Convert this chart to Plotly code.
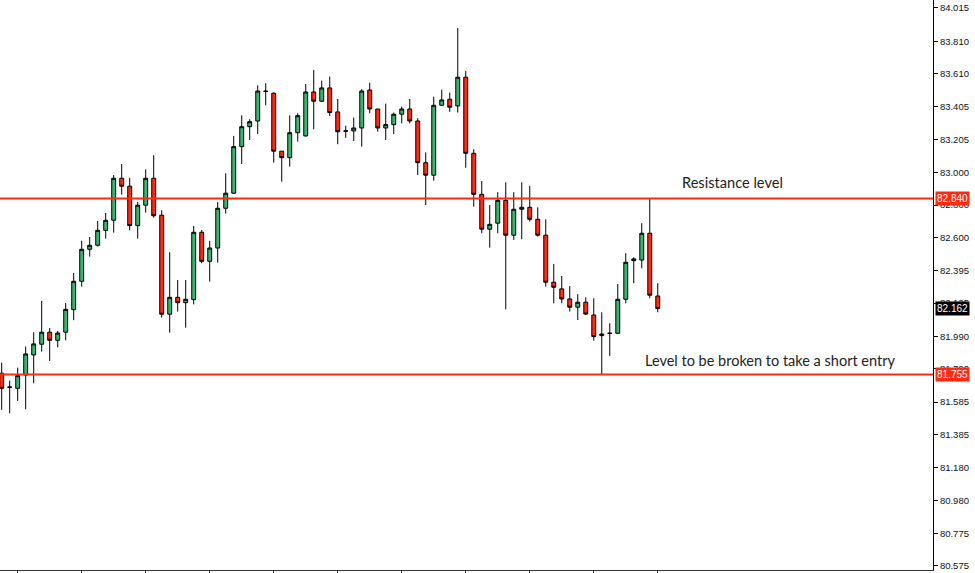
import plotly.graph_objects as go

# OHLC, one entry per bar
opens = [81.763, 81.676, 81.670, 81.752, 81.876, 81.942, 82.016, 81.966, 82.016, 82.155,
         82.330, 82.527, 82.552, 82.644, 82.706, 82.965, 82.916, 82.673, 82.799, 82.965,
         82.737, 82.127, 82.231, 82.198, 82.217, 82.632, 82.453, 82.535, 82.780, 82.873,
         83.160, 83.283, 83.318, 83.500, 83.489, 83.132, 83.092, 83.246, 83.226, 83.497,
         83.440, 83.522, 83.374, 83.255, 83.257, 83.275, 83.509, 83.392, 83.275, 83.296,
         83.360, 83.392, 83.318, 83.061, 82.984, 83.415, 83.452, 83.411, 83.588, 83.119,
         82.866, 82.651, 82.688, 82.829, 82.614, 82.774, 82.786, 82.712, 82.614, 82.324,
         82.283, 82.221, 82.170, 82.201, 82.122, 81.995, 82.008, 82.009, 82.219, 82.457,
         82.461, 82.626, 82.239]
highs = [81.828, 81.717, 81.797, 81.927, 82.016, 82.209, 82.042, 82.024, 82.196, 82.381,
         82.580, 82.603, 82.702, 82.751, 82.985, 83.053, 82.967, 82.819, 83.020, 83.107,
         82.768, 82.509, 82.338, 82.338, 82.671, 82.646, 82.579, 82.819, 82.996, 83.226,
         83.353, 83.329, 83.538, 83.551, 83.495, 83.132, 83.353, 83.366, 83.546, 83.633,
         83.567, 83.592, 83.454, 83.289, 83.339, 83.514, 83.554, 83.392, 83.425, 83.370,
         83.407, 83.454, 83.335, 83.125, 83.468, 83.511, 83.493, 83.892, 83.627, 83.144,
         82.948, 82.800, 82.879, 82.940, 82.879, 82.940, 82.918, 82.786, 82.712, 82.437,
         82.363, 82.301, 82.250, 82.231, 82.225, 82.139, 82.071, 82.313, 82.503, 82.478,
         82.688, 82.840, 82.318]
lows = [81.537, 81.516, 81.592, 81.541, 81.701, 81.896, 81.839, 81.923, 81.966, 82.090,
        82.297, 82.482, 82.544, 82.593, 82.630, 82.864, 82.644, 82.593, 82.753, 82.722,
        82.106, 82.013, 82.143, 82.044, 82.188, 82.441, 82.328, 82.445, 82.747, 82.868,
        83.053, 83.201, 83.238, 83.415, 83.061, 82.944, 83.037, 83.191, 83.222, 83.267,
        83.435, 83.349, 83.175, 83.214, 83.195, 83.160, 83.366, 83.252, 83.201, 83.238,
        83.304, 83.304, 82.985, 82.800, 82.950, 83.412, 83.374, 83.370, 83.030, 82.790,
        82.626, 82.537, 82.626, 82.157, 82.585, 82.589, 82.698, 82.605, 82.297, 82.194,
        82.194, 82.143, 82.091, 82.122, 81.964, 81.752, 81.870, 82.005, 82.194, 82.318,
        82.410, 82.225, 82.139]
closes = [81.670, 81.678, 81.748, 81.882, 81.944, 82.016, 81.966, 82.011, 82.157, 82.330,
          82.527, 82.552, 82.644, 82.706, 82.965, 82.916, 82.673, 82.799, 82.965, 82.734,
          82.127, 82.231, 82.198, 82.219, 82.632, 82.453, 82.535, 82.780, 82.873, 83.160,
          83.283, 83.314, 83.503, 83.502, 83.132, 83.092, 83.246, 83.351, 83.497, 83.440,
          83.522, 83.370, 83.252, 83.257, 83.275, 83.503, 83.392, 83.275, 83.296, 83.360,
          83.392, 83.318, 83.061, 82.984, 83.415, 83.448, 83.403, 83.588, 83.119, 82.866,
          82.651, 82.681, 82.829, 82.614, 82.774, 82.786, 82.712, 82.614, 82.324, 82.293,
          82.221, 82.170, 82.201, 82.128, 81.989, 82.005, 82.010, 82.219, 82.447, 82.468,
          82.626, 82.244, 82.162]
bars = list(range(len(opens)))

price_ticks = [84.015, 83.810, 83.610, 83.405, 83.205, 83.000, 82.800, 82.600, 82.395,
               82.195, 81.990, 81.790, 81.585, 81.385, 81.180, 80.980, 80.775, 80.575]
tick_labels = ['%.3f' % v for v in price_ticks]

resistance = 82.840
breakout = 81.755
last_price = closes[-1]

green = '#3cb371'
red = '#ff2a12'

fig = go.Figure(go.Candlestick(
    x=bars, open=opens, high=highs, low=lows, close=closes,
    increasing=dict(fillcolor=green, line=dict(color='black', width=1)),
    decreasing=dict(fillcolor=red, line=dict(color='black', width=1)),
    whiskerwidth=0, hoverinfo='skip', showlegend=False))

for lvl in [resistance, breakout]:
    fig.add_hline(y=lvl, line=dict(color=red, width=2))

# price tags on the axis
for lvl, bg in [(resistance, red), (breakout, red), (last_price, 'black')]:
    fig.add_annotation(x=1, xref='paper', y=lvl, yref='y', text='%.3f' % lvl,
                       xanchor='left', yanchor='middle', xshift=2, showarrow=False,
                       bgcolor=bg, borderpad=1,
                       font=dict(family='Liberation Sans', size=10, color='white'))

fig.add_annotation(x=84.8, y=82.942, text='Resistance level', xanchor='left', yanchor='middle',
                   showarrow=False, font=dict(family='Lato', size=14.6, color='#222'))
fig.add_annotation(x=80.1, y=81.839, text='Level to be broken to take a short entry',
                   xanchor='left', yanchor='middle', showarrow=False,
                   font=dict(family='Lato', size=14.5, color='#222'))

fig.update_layout(
    width=975, height=573, template='none',
    margin=dict(l=0, r=42, t=0, b=3),
    paper_bgcolor='white', plot_bgcolor='white',
    boxgap=0.3,
    xaxis=dict(range=[-0.21, 116.4], rangeslider=dict(visible=False), showgrid=False,
               zeroline=False, showline=True, linecolor='#333', linewidth=1,
               tickvals=list(range(2, 83, 8)), ticks='outside', ticklen=3,
               tickcolor='#333', showticklabels=False, automargin=False),
    yaxis=dict(side='right', range=[80.550, 84.064], showgrid=False, zeroline=False,
               showline=True, linecolor='black', linewidth=1,
               tickvals=price_ticks, ticktext=tick_labels, ticks='outside', ticklen=4,
               tickcolor='black', tickfont=dict(family='Liberation Sans', size=9.5, color='#111'),
               automargin=False),
)

# page body has a default 8px margin; drop it so the chart fills the window
fig.write_html("out.html", config=dict(displayModeBar=False),
               post_script="document.body.style.margin='0';")
